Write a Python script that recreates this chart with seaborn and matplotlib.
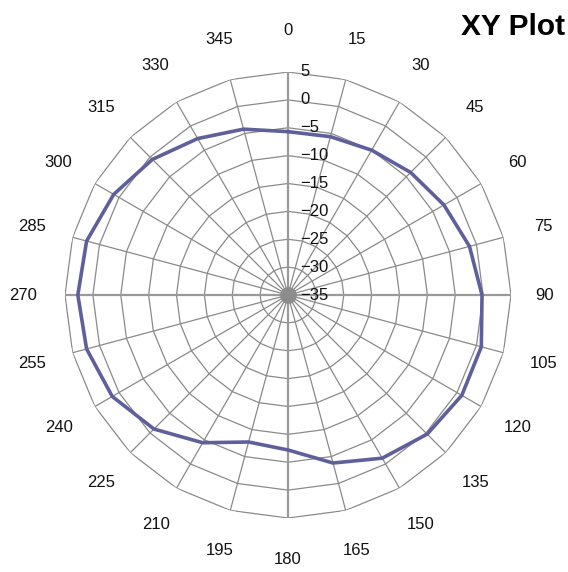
import numpy as np
import pandas as pd
import matplotlib
matplotlib.use("Agg")
import matplotlib.pyplot as plt
import seaborn as sns

# ---- data ----
angles_deg = [0, 15, 30, 45, 60, 75, 90, 105, 120, 135, 150, 165,
              180, 195, 210, 225, 240, 255, 270, 285, 300, 315, 330, 345]
values = [-5.7, -5.6, -5.0, -3.9, -2.7, -1.3, -0.2, 0.9, 1.0, 0.3, -1.2, -3.8,
          -7.2, -7.7, -4.4, -1.0, 1.4, 2.4, 2.7, 2.4, 1.1, -0.6, -2.6, -4.2]
r_ticks = [5, 0, -5, -10, -15, -20, -25, -30, -35]
r_tick_labels = ["5", "0", "\u22125", "\u221210", "\u221215", "\u221220", "\u221225", "\u221230", "\u221235"]
angle_labels = [str(a) for a in angles_deg]
title = "XY Plot"

sns.set_style("white")
plt.rcParams["font.family"] = ["Liberation Sans", "DejaVu Sans"]

fig = plt.figure(figsize=(5.68, 5.72), dpi=100)
ax = fig.add_axes([65 / 568, (277 - 223) / 572, 446 / 568, 446 / 572], projection="polar")
ax.set_theta_zero_location("N")
ax.set_theta_direction(-1)
ax.set_ylim(-35, 5)
ax.grid(False)
ax.spines["polar"].set_visible(False)
ax.set_xticks([])
ax.set_yticks([])
ax.patch.set_alpha(0)

theta = np.deg2rad(angles_deg)
rmin, rmax = min(r_ticks), max(r_ticks)

# polygonal rings
ring_theta = np.append(theta, 2 * np.pi)
for rv in r_ticks:
    if rv == rmin:
        continue
    ax.plot(ring_theta, [rv] * len(ring_theta), color="#8a8a8a", lw=0.9, zorder=1)

# spokes
for a, t in zip(angles_deg, theta):
    major = a % 90 == 0
    ax.plot([t, t], [rmin, rmax], color="#9a9a9a" if major else "#8a8a8a",
            lw=1.6 if major else 0.9, zorder=1)

# central hub
hub = np.linspace(0, 2 * np.pi, 100)
ax.fill_between(hub, rmin, rmin + 1.5, color="#8c8c8c", lw=0, zorder=1)

# data line (closed loop)
df = pd.DataFrame({"theta": np.append(theta, 2 * np.pi),
                   "value": values + [values[0]]})
sns.lineplot(data=df, x="theta", y="value", sort=False, estimator=None, ax=ax,
             color="#5f5f9c", lw=2.6, zorder=3)
ax.set_xlabel("")
ax.set_ylabel("")
ax.set_ylim(-35, 5)

# angle labels
for a, t, lab in zip(angles_deg, theta, angle_labels):
    rr = 11.0 if a == 90 else 12.5
    ax.text(t, rr, lab, ha="center", va="center", fontsize=12,
            color="#111111", clip_on=False)

# radial labels
for rv, lab in zip(r_ticks, r_tick_labels):
    ax.annotate(lab, xy=(0, rv), xytext=(12, 0), textcoords="offset pixels",
                ha="left", va="center", fontsize=12, color="#111111",
                annotation_clip=False)

fig.text(565 / 568, 1 - 13 / 572, title, ha="right", va="top",
         fontsize=21.5, fontweight="bold", color="#000000")

fig.savefig("out.png", dpi=100)
